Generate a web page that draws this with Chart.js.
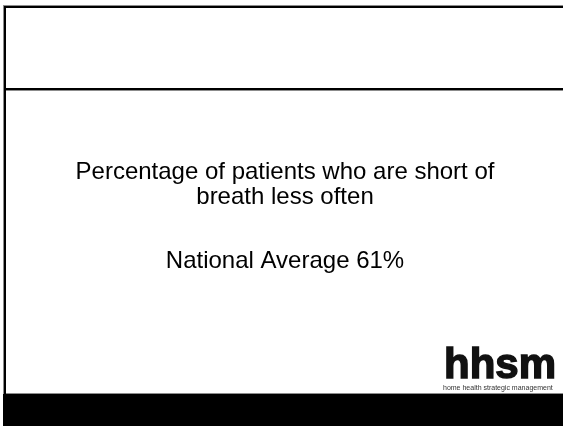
<!DOCTYPE html>
<html>
<head>
<meta charset="utf-8">
<script src="https://cdn.jsdelivr.net/npm/chart.js@4.4.1/dist/chart.umd.min.js"></script>
<style>
  html, body { margin: 0; padding: 0; background: #fff; }
  #wrap { position: relative; width: 563px; height: 426px; }
</style>
</head>
<body>
<div id="wrap"><canvas id="chart"></canvas></div>
<script>
// slide text
const titleLines = ['Percentage of patients who are short of', 'breath less often'];
const averageLabel = ['National Average'];
const averageValue = [61];
const logoText = ['hhsm', 'home health strategic management'];

// frame + logo, drawn straight on the canvas
const slideFrame = {
  id: 'slideFrame',
  beforeDraw(chart) {
    const ctx = chart.ctx;
    const w = chart.width, h = chart.height;
    ctx.save();
    ctx.fillStyle = '#fff';
    ctx.fillRect(0, 0, w, h);
    // gray edges
    ctx.fillStyle = '#8c8c8c';
    ctx.fillRect(3, 5, w - 3, 1);
    ctx.fillRect(3, 5, 1, 389);
    ctx.fillRect(3, 90, w - 3, 1);
    ctx.fillRect(3, 393, w - 3, 1);
    // black lines
    ctx.fillStyle = '#000';
    ctx.fillRect(4, 6, w - 4, 2);
    ctx.fillRect(4, 6, 2, 388);
    ctx.fillRect(4, 88, w - 4, 2);
    // bottom bar
    ctx.fillRect(3, 394, w - 3, h - 394);
    ctx.restore();
  },
  afterDraw(chart) {
    const ctx = chart.ctx;
    ctx.save();
    ctx.fillStyle = '#111';
    ctx.strokeStyle = '#111';
    ctx.lineWidth = 1.5;
    ctx.textBaseline = 'alphabetic';
    ctx.textAlign = 'left';
    ctx.font = 'bold 42px "Liberation Sans", Arial, sans-serif';
    ctx.fillText(logoText[0], 444, 378, 113);
    ctx.strokeText(logoText[0], 444, 378, 113);
    ctx.font = '7px "Liberation Sans", Arial, sans-serif';
    ctx.fillStyle = '#333';
    ctx.fillText(logoText[1], 443, 390, 115);
    ctx.restore();
  }
};

new Chart(document.getElementById('chart'), {
  type: 'bar',
  data: {
    labels: averageLabel,
    datasets: [{ data: [], backgroundColor: 'transparent' }]
  },
  options: {
    responsive: true,
    maintainAspectRatio: false,
    animation: false,
    layout: { padding: { left: 7, right: 0, top: 0, bottom: 0 } },
    scales: { x: { display: false }, y: { display: false } },
    plugins: {
      legend: { display: false },
      tooltip: { enabled: false },
      title: {
        display: true,
        text: titleLines,
        color: '#000',
        font: { family: '"Liberation Sans", Arial, sans-serif', size: 24, weight: 'normal', lineHeight: 1.05 },
        padding: { top: 160, bottom: 0 }
      },
      subtitle: {
        display: true,
        text: averageLabel[0] + ' ' + averageValue[0] + '%',
        color: '#000',
        font: { family: '"Liberation Sans", Arial, sans-serif', size: 24, weight: 'normal', lineHeight: 1.2 },
        padding: { top: 37, bottom: 0 }
      }
    }
  },
  plugins: [slideFrame]
});
</script>
</body>
</html>
